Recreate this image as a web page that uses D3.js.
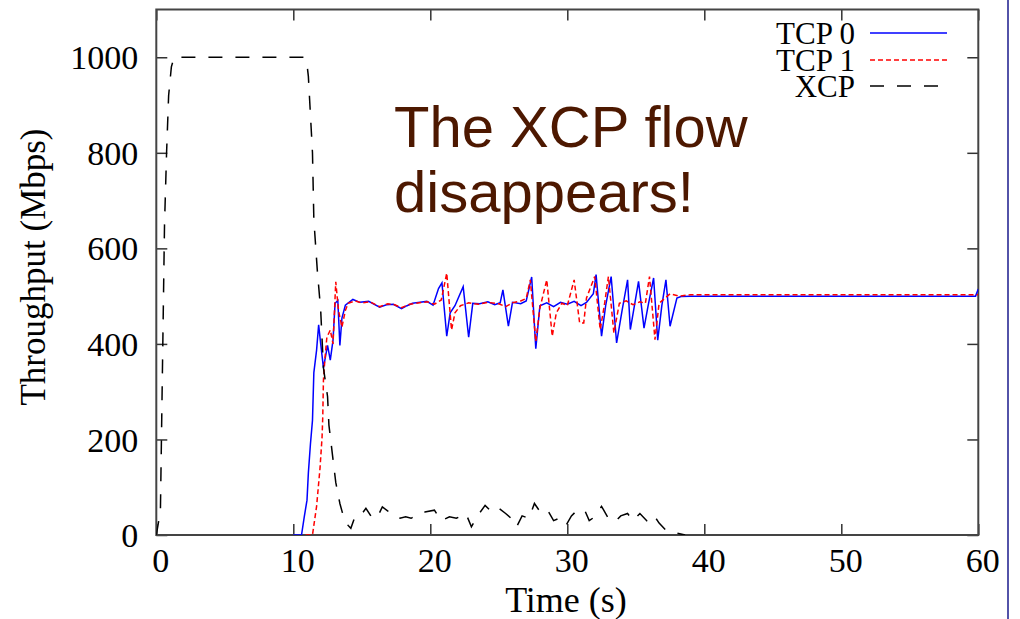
<!DOCTYPE html>
<html>
<head>
<meta charset="utf-8">
<script src="https://cdn.jsdelivr.net/npm/d3@7"></script>
<style>
  body { margin: 0; background: #fff; }
  svg text { font-family: "Liberation Serif", "DejaVu Serif", serif; }
</style>
</head>
<body>
<svg id="chart" width="1020" height="619"></svg>
<script>
// data: [time (s), throughput (Mbps)]
const tcp0 = [[10,0],[10.6,0],[10.8,38],[11.0,73],[11.1,130],[11.25,190],[11.4,240],[11.5,340],[11.7,387],[11.85,440],
  [12.0,400],[12.2,350],[12.5,397],[12.7,366],[12.9,408],[13.05,485],[13.25,491],[13.4,397],[13.55,454],[13.8,481],
  [14.35,493],[14.85,487],[15.5,489],[16.3,477],[16.8,482],[17.3,483],[17.9,474],[18.3,480],[18.7,485],[19.25,487],
  [19.75,489],[20.2,481],[20.6,516],[20.85,528],[21.2,416],[21.45,465],[21.8,480],[22.4,520],[22.8,414],[23.1,485],
  [23.6,484],[24.2,488],[24.7,482],[25.1,486],[25.3,513],[25.7,437],[26.0,487],[26.6,484],[27.0,490],[27.4,540],
  [27.7,390],[28.0,480],[28.5,486],[29.0,478],[29.5,487],[30.0,483],[30.5,489],[31.0,480],[31.4,487],[31.9,505],
  [32.1,545],[32.5,416],[32.8,480],[33.2,541],[33.6,402],[34.0,470],[34.4,534],[34.6,430],[34.9,480],[35.2,531],
  [35.6,433],[35.9,480],[36.3,538],[36.6,408],[36.9,480],[37.2,534],[37.5,437],[38.0,496],[38.3,499],[39,500],
  [59.8,500],[60,515]]

const tcp1 = [[10.9,0],[11.4,0],[11.7,60],[11.95,140],[12.1,205],[12.15,247],[12.2,324],[12.3,366],[12.45,414],[12.7,429],
  [12.9,400],[13.1,530],[13.3,470],[13.55,435],[13.8,470],[14.0,485],[14.5,490],[15.0,486],[15.6,488],[16.3,478],
  [16.9,484],[17.4,482],[17.9,476],[18.5,483],[19.2,486],[19.8,488],[20.3,483],[20.8,492],[21.2,548],[21.55,429],
  [21.8,465],[22.2,480],[22.8,486],[23.5,483],[24.2,487],[25.0,484],[25.5,478],[26.0,486],[26.6,490],[27.0,495],
  [27.3,534],[27.7,405],[28.0,475],[28.5,534],[28.9,416],[29.2,465],[29.6,485],[30.0,480],[30.5,534],[30.9,444],
  [31.2,444],[31.4,496],[32.0,541],[32.4,430],[32.7,480],[33.0,541],[33.4,423],[33.8,485],[34.3,490],[34.8,482],
  [35.3,488],[35.7,485],[36.0,541],[36.4,409],[36.7,485],[37.5,505],[38.2,500],[39,503],[60,503]]

const xcp = [[0,0],[0.3,50],[0.4,250],[0.5,450],[0.6,650],[0.75,800],[0.9,920],[1.1,980],[1.3,1000],[10.8,1000],
  [11.0,985],[11.1,960],[11.4,800],[11.5,660],[11.75,555],[12.0,470],[12.2,350],[12.5,290],[12.6,230],[12.85,170],
  [13.1,110],[13.4,66],[13.6,45],[14.0,20],[14.2,14],[14.5,38],[14.9,40],[15.3,56],[15.7,38],[16.1,35],
  [16.5,59],[16.9,50],[17.4,45],[17.8,35],[18.2,38],[18.6,35],[19.2,45],[19.6,48],[20.3,52],[20.8,30],
  [21.4,38],[21.9,35],[22.6,45],[23.0,17],[23.4,38],[24.0,62],[24.5,48],[25.0,56],[25.5,45],[25.9,35],
  [26.3,17],[26.7,40],[27.2,35],[27.6,66],[28.1,45],[28.6,50],[29.0,30],[29.4,35],[29.9,20],[30.3,40],
  [30.8,54],[31.3,50],[31.6,30],[32.0,38],[32.5,60],[33.0,35],[33.5,28],[33.9,40],[34.4,45],[34.8,30],
  [35.3,45],[35.8,30],[36.3,42],[36.7,25],[37.2,10],[37.8,5],[38.6,0]]

const xTicks = [0, 10, 20, 30, 40, 50, 60]
const yTicks = [0, 200, 400, 600, 800, 1000]
const seriesNames = ["TCP 0", "TCP 1", "XCP"]

const svg = d3.select("#chart")

const plotLeft = 156.3, plotRight = 978.3, plotTop = 9.5, plotBottom = 535

const x = d3.scaleLinear().domain([0, 60]).range([plotLeft, plotRight])
const y = d3.scaleLinear().domain([0, 1100]).range([plotBottom, plotTop])

svg.append("clipPath").attr("id", "plot-clip")
    .append("rect")
    .attr("x", plotLeft).attr("y", plotTop)
    .attr("width", plotRight - plotLeft).attr("height", plotBottom - plotTop)

// axes, ticks pointing inward on all four sides
const xAxis = svg.append("g")
    .attr("transform", `translate(0,${plotBottom})`)
    .call(d3.axisBottom(x).tickValues(xTicks).tickFormat(d3.format("d"))
        .tickSizeInner(-11).tickSizeOuter(0).tickPadding(16))
const yAxis = svg.append("g")
    .attr("transform", `translate(${plotLeft},0)`)
    .call(d3.axisLeft(y).tickValues(yTicks).tickFormat(d3.format("d"))
        .tickSizeInner(-11).tickSizeOuter(0).tickPadding(18))
svg.append("g")
    .attr("transform", `translate(0,${plotTop})`)
    .call(d3.axisTop(x).tickValues(xTicks).tickSizeInner(-11).tickSizeOuter(0).tickFormat(""))
svg.append("g")
    .attr("transform", `translate(${plotRight},0)`)
    .call(d3.axisRight(y).tickValues(yTicks).tickSizeInner(-11).tickSizeOuter(0).tickFormat(""))

svg.selectAll(".domain").remove()
svg.selectAll(".tick line").attr("stroke", "#333").attr("stroke-width", 1.5)
svg.selectAll(".tick text")
    .attr("fill", "#000")
    .style("font-family", "'Liberation Serif', serif")
    .style("font-size", "34px")
xAxis.selectAll(".tick text").attr("dx", 4).attr("dy", "0.62em")
yAxis.selectAll(".tick text").attr("dy", "0.34em")

svg.append("rect")
    .attr("x", plotLeft).attr("y", plotTop)
    .attr("width", plotRight - plotLeft).attr("height", plotBottom - plotTop)
    .attr("fill", "none")
    .attr("stroke", "#444")
    .attr("stroke-width", 2)

// series
const line = d3.line().x(d => x(d[0])).y(d => y(d[1]))
const styles = [
    { data: tcp0, color: "#0000ff", dash: null },
    { data: tcp1, color: "#ff0000", dash: "5,3" },
    { data: xcp, color: "#000000", dash: "14,13" }
]

const plot = svg.append("g").attr("clip-path", "url(#plot-clip)")
styles.forEach(s => {
    plot.append("path")
        .datum(s.data)
        .attr("d", line)
        .attr("fill", "none")
        .attr("stroke", s.color)
        .attr("stroke-width", 1.5)
        .attr("stroke-dasharray", s.dash)
})

// legend (rows packed tight like the original)
const legendY = [33, 60, 86]
seriesNames.forEach((name, i) => {
    svg.append("text")
        .attr("x", 855).attr("y", legendY[i] + 11)
        .attr("text-anchor", "end")
        .style("font-size", "31px")
        .text(name)
    svg.append("line")
        .attr("x1", 870).attr("x2", 947)
        .attr("y1", legendY[i]).attr("y2", legendY[i])
        .attr("stroke", styles[i].color)
        .attr("stroke-width", 1.5)
        .attr("stroke-dasharray", styles[i].dash)
})

// axis titles
svg.append("text")
    .attr("x", 566).attr("y", 612)
    .attr("text-anchor", "middle")
    .style("font-size", "36px")
    .text("Time (s)")

svg.append("text")
    .attr("transform", "translate(45,267) rotate(-90)")
    .attr("text-anchor", "middle")
    .style("font-size", "35px")
    .text("Throughput (Mbps)")

// annotation
const note = svg.append("text")
    .attr("fill", "#4d1800")
    .style("font-family", "'Liberation Sans', Arial, sans-serif")
    .style("font-size", "58px")
note.append("tspan").attr("x", 394).attr("y", 147).text("The XCP flow")
note.append("tspan").attr("x", 394).attr("y", 212).text("disappears!")

// slide border on the right
svg.append("line")
    .attr("x1", 1008).attr("x2", 1008)
    .attr("y1", 0).attr("y2", 619)
    .attr("stroke", "#1a1a8c")
    .attr("stroke-width", 1.5)
</script>
</body>
</html>
